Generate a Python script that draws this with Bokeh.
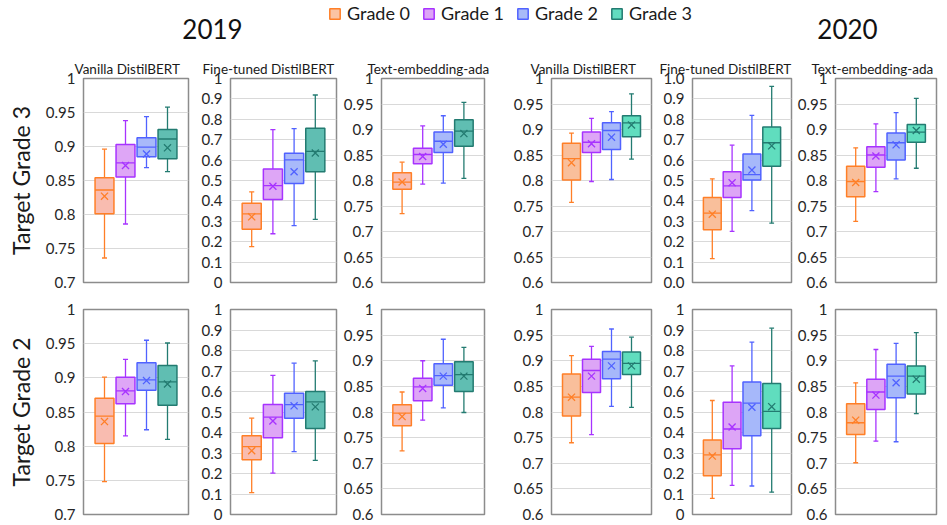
from bokeh.plotting import figure
from bokeh.layouts import column, row
from bokeh.models import (Range1d, FixedTicker, NumeralTickFormatter, ColumnDataSource,
                          Legend, LegendItem, Label)
from bokeh.embed import file_html
from bokeh.resources import INLINE

FONT = "Lato"

years = ["2019", "2020"]
models = ["Vanilla DistilBERT", "Fine-tuned DistilBERT", "Text-embedding-ada"]
targets = ["Target Grade 3", "Target Grade 2"]
grades = ["Grade 0", "Grade 1", "Grade 2", "Grade 3"]
grade_pos = [1, 2, 3, 4]

# each grade: [lower whisker, Q1, median, Q3, upper whisker, mean]
t3_2019_vanilla = [[0.736, 0.801, 0.836, 0.854, 0.896, 0.827],
                   [0.786, 0.855, 0.876, 0.903, 0.938, 0.872],
                   [0.869, 0.885, 0.899, 0.913, 0.944, 0.889],
                   [0.863, 0.882, 0.911, 0.925, 0.958, 0.898]]
t3_2019_finetuned = [[0.176, 0.261, 0.336, 0.389, 0.444, 0.322],
                     [0.239, 0.407, 0.475, 0.556, 0.749, 0.472],
                     [0.279, 0.485, 0.601, 0.633, 0.754, 0.543],
                     [0.309, 0.543, 0.643, 0.756, 0.919, 0.635]]
t3_2019_ada = [[0.735, 0.783, 0.797, 0.815, 0.836, 0.797],
               [0.793, 0.833, 0.851, 0.863, 0.907, 0.847],
               [0.795, 0.855, 0.877, 0.895, 0.927, 0.871],
               [0.804, 0.867, 0.897, 0.919, 0.953, 0.892]]
t3_2020_vanilla = [[0.757, 0.801, 0.843, 0.873, 0.893, 0.835],
                   [0.798, 0.855, 0.875, 0.895, 0.922, 0.872],
                   [0.802, 0.861, 0.898, 0.913, 0.935, 0.885],
                   [0.842, 0.886, 0.913, 0.927, 0.970, 0.909]]
t3_2020_finetuned = [[0.117, 0.258, 0.340, 0.417, 0.508, 0.335],
                     [0.251, 0.417, 0.474, 0.543, 0.673, 0.489],
                     [0.352, 0.503, 0.529, 0.630, 0.819, 0.551],
                     [0.291, 0.570, 0.685, 0.762, 0.961, 0.670]]
t3_2020_ada = [[0.720, 0.768, 0.798, 0.828, 0.864, 0.796],
               [0.778, 0.826, 0.850, 0.866, 0.911, 0.848],
               [0.803, 0.840, 0.874, 0.893, 0.933, 0.870],
               [0.824, 0.875, 0.895, 0.910, 0.961, 0.898]]
t2_2019_vanilla = [[0.748, 0.804, 0.844, 0.870, 0.901, 0.836],
                   [0.815, 0.862, 0.881, 0.901, 0.927, 0.880],
                   [0.824, 0.882, 0.897, 0.922, 0.955, 0.896],
                   [0.810, 0.860, 0.894, 0.918, 0.951, 0.891]]
t2_2019_finetuned = [[0.107, 0.267, 0.331, 0.384, 0.470, 0.311],
                     [0.202, 0.374, 0.475, 0.536, 0.679, 0.456],
                     [0.307, 0.469, 0.536, 0.592, 0.738, 0.530],
                     [0.264, 0.420, 0.549, 0.600, 0.749, 0.525]]
t2_2019_ada = [[0.724, 0.773, 0.798, 0.814, 0.839, 0.791],
               [0.784, 0.822, 0.849, 0.866, 0.900, 0.846],
               [0.808, 0.852, 0.871, 0.894, 0.942, 0.870],
               [0.799, 0.840, 0.873, 0.898, 0.926, 0.870]]
t2_2020_vanilla = [[0.740, 0.792, 0.829, 0.874, 0.910, 0.829],
                   [0.756, 0.838, 0.881, 0.903, 0.928, 0.870],
                   [0.811, 0.865, 0.903, 0.918, 0.962, 0.890],
                   [0.809, 0.873, 0.895, 0.917, 0.946, 0.890]]
t2_2020_finetuned = [[0.079, 0.189, 0.291, 0.364, 0.556, 0.285],
                     [0.142, 0.321, 0.417, 0.548, 0.725, 0.427],
                     [0.139, 0.384, 0.543, 0.646, 0.841, 0.523],
                     [0.109, 0.419, 0.503, 0.639, 0.909, 0.526]]
t2_2020_ada = [[0.701, 0.756, 0.779, 0.816, 0.857, 0.784],
               [0.743, 0.805, 0.839, 0.864, 0.922, 0.833],
               [0.742, 0.828, 0.870, 0.893, 0.934, 0.857],
               [0.797, 0.835, 0.870, 0.890, 0.955, 0.864]]

ticks_070 = [0.7, 0.75, 0.8, 0.85, 0.9, 0.95, 1.0]
ticks_060 = [0.6, 0.65, 0.7, 0.75, 0.8, 0.85, 0.9, 0.95, 1.0]
ticks_000 = [0.0, 0.1, 0.2, 0.3, 0.4, 0.5, 0.6, 0.7, 0.8, 0.9, 1.0]

edge_colors = ["#FF7F27", "#A733FF", "#5062FF", "#237B71"]
fill_2019 = ["#F9BCB0", "#DEA6F6", "#A8B9FA", "#60BEB2"]
fill_2020 = ["#F9BF9B", "#DDA5F6", "#A6B8FA", "#60DDBE"]
legend_fill = ["#FBC3A3", "#DDA5F6", "#A8BAF8", "#62DCC0"]

# grid of panels: rows = targets, cols = (year, model)
panel_data = [
    [t3_2019_vanilla, t3_2019_finetuned, t3_2019_ada, t3_2020_vanilla, t3_2020_finetuned, t3_2020_ada],
    [t2_2019_vanilla, t2_2019_finetuned, t2_2019_ada, t2_2020_vanilla, t2_2020_finetuned, t2_2020_ada],
]
panel_ticks = [
    [ticks_070, ticks_000, ticks_060, ticks_060, ticks_000, ticks_060],
    [ticks_070, ticks_000, ticks_060, ticks_060, ticks_000, ticks_060],
]
panel_fmt = [
    ["0.[00]", "0.[0]", "0.[00]", "0.[00]", "0.0", "0.[00]"],
    ["0.[00]", "0.[0]", "0.[00]", "0.[00]", "0.[0]", "0.[00]"],
]

# layout geometry (pixels)
col_width = [190, 148, 162, 153, 140, 152]
col_left = [83, 40, 43, 51, 39, 42]
col_right = [2, 2, 16, 2, 2, 9]
row_height = [235, 234]
row_top = [23, 19]
row_bottom = [8, 10]
title_offset = [-9, -28, -14, -21, -33, -24]
HEADER_H = 55
TOTAL_W = sum(col_width)

BOX_W = 0.9
CAP_W = 0.24


def make_panel(r, c):
    stats = panel_data[r][c]
    ticks = panel_ticks[r][c]
    year_fill = fill_2019 if c < 3 else fill_2020
    p = figure(width=col_width[c], height=row_height[r],
               x_range=Range1d(0, 5), y_range=Range1d(ticks[0], ticks[-1]),
               x_axis_location=None, output_backend="svg", toolbar_location=None,
               min_border_left=col_left[c], min_border_right=col_right[c],
               min_border_top=row_top[r], min_border_bottom=row_bottom[r])
    p.background_fill_color = "white"
    p.border_fill_color = "white"
    p.outline_line_color = "#8C8C8C"
    p.outline_line_width = 1.5
    p.xgrid.visible = False
    p.ygrid.grid_line_color = "#D9D9D9"
    p.ygrid.grid_line_width = 1
    p.yaxis.ticker = FixedTicker(ticks=ticks)
    p.yaxis.formatter = NumeralTickFormatter(format=panel_fmt[r][c])
    p.yaxis.axis_line_color = None
    p.yaxis.major_tick_line_color = None
    p.yaxis.minor_tick_line_color = None
    p.yaxis.major_tick_out = 0
    p.yaxis.major_label_standoff = 8
    p.yaxis.major_label_text_font = FONT
    p.yaxis.major_label_text_font_size = "15px"
    p.yaxis.major_label_text_color = "#262626"
    if c == 0:
        p.yaxis.axis_label = targets[r]
        p.yaxis.axis_label_text_font = FONT
        p.yaxis.axis_label_text_font_size = "23px"
        p.yaxis.axis_label_text_font_style = "normal"
        p.yaxis.axis_label_text_color = "#1a1a1a"
        p.yaxis.axis_label_standoff = 8
    if r == 0:
        p.title.text = models[c % 3]
        p.title.text_font = FONT
        p.title.text_font_size = "13.5px"
        p.title.text_font_style = "normal"
        p.title.text_color = "#1a1a1a"
        p.title.align = "left"
        p.title.offset = title_offset[c]
        p.title.standoff = 3

    x = grade_pos
    src = ColumnDataSource(dict(
        x=x,
        xl=[v - BOX_W / 2 for v in x], xr=[v + BOX_W / 2 for v in x],
        cl=[v - CAP_W / 2 for v in x], cr=[v + CAP_W / 2 for v in x],
        lo=[s[0] for s in stats], q1=[s[1] for s in stats], med=[s[2] for s in stats],
        q3=[s[3] for s in stats], hi=[s[4] for s in stats], mean=[s[5] for s in stats],
        edge=edge_colors, fill=year_fill,
    ))
    # whiskers and caps
    p.segment(x0="x", y0="lo", x1="x", y1="q1", line_color="edge", line_width=1.3, source=src)
    p.segment(x0="x", y0="q3", x1="x", y1="hi", line_color="edge", line_width=1.3, source=src)
    p.segment(x0="cl", y0="lo", x1="cr", y1="lo", line_color="edge", line_width=1.3, source=src)
    p.segment(x0="cl", y0="hi", x1="cr", y1="hi", line_color="edge", line_width=1.3, source=src)
    # boxes
    p.vbar(x="x", width=BOX_W, bottom="q1", top="q3", fill_color="fill", line_color="edge",
           line_width=1.5, source=src)
    # medians
    p.segment(x0="xl", y0="med", x1="xr", y1="med", line_color="edge", line_width=1.3, source=src)
    # means
    p.scatter(x="x", y="mean", marker="x", size=10, line_color="edge", line_width=1.3, source=src)
    return p


# header with year labels and legend
h = figure(width=TOTAL_W, height=HEADER_H, x_range=Range1d(0, TOTAL_W), y_range=Range1d(0, HEADER_H),
           x_axis_location=None, y_axis_location=None, output_backend="svg", toolbar_location=None,
           min_border=0)
h.outline_line_color = None
h.grid.visible = False
h.background_fill_color = "white"
h.border_fill_color = "white"
for yr, xc in zip(years, [212, 847]):
    h.add_layout(Label(x=xc, y=27, text=yr, text_align="center", text_baseline="middle",
                       text_font=FONT, text_font_size="26px", text_color="#111111"))
items = []
for g, ec, fc in zip(grades, edge_colors, legend_fill):
    # legend proxy glyph (hidden renderer; only its legend swatch is shown)
    rr = h.vbar(x=[-100], bottom=[0], top=[1], width=1, fill_color=fc, line_color=ec, line_width=1.5)
    rr.visible = False
    items.append(LegendItem(label=g, renderers=[rr]))
leg = Legend(items=items, orientation="horizontal", location=(328, 31), padding=0, margin=0,
             spacing=12, glyph_width=13, glyph_height=13, label_standoff=6,
             label_text_font=FONT, label_text_font_size="18px", label_text_color="#1a1a1a",
             border_line_alpha=0, background_fill_alpha=0, inactive_fill_alpha=0)
h.add_layout(leg)

rows = []
for r in range(2):
    rows.append(row(*[make_panel(r, c) for c in range(6)], spacing=0))

layout = column(h, *rows, spacing=0)
open("out.html", "w").write(file_html(layout, INLINE))
